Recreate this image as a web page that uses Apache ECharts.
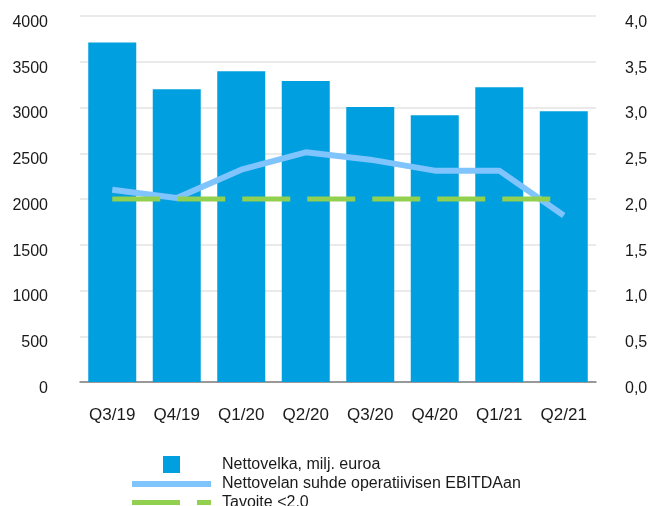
<!DOCTYPE html>
<html>
<head>
<meta charset="utf-8">
<script src="https://cdn.jsdelivr.net/npm/echarts@6/dist/echarts.min.js"></script>
<style>
html,body{margin:0;padding:0;background:#fff;}
#c{width:652px;height:506px;}
</style>
</head>
<body>
<div id="c"></div>
<script>
const categories = ['Q3/19','Q4/19','Q1/20','Q2/20','Q3/20','Q4/20','Q1/21','Q2/21'];
const netDebt = [3710, 3200, 3395, 3290, 3005, 2915, 3220, 2960];
const ratio = [2.10, 2.01, 2.32, 2.51, 2.43, 2.31, 2.31, 1.82];
const target = [2.0, 2.0, 2.0, 2.0, 2.0, 2.0, 2.0, 2.0];
const leftTicks = [0, 4000, 500];
const rightTicks = [0, 4, 0.5];
const names = ['Nettovelka, milj. euroa', 'Nettovelan suhde operatiivisen EBITDAan', 'Tavoite <2.0'];

const FONT = 'Arial, "Liberation Sans", sans-serif';
const TXT = '#1a1a1a';
const chart = echarts.init(document.getElementById('c'));
const legendText = {color: TXT, fontSize: 16, fontFamily: FONT, lineHeight: 16};
chart.setOption({
  animation: false,
  backgroundColor: '#fff',
  grid: {left: 80, right: 56, top: 16, bottom: 124},
  legend: [
    {data: [{name: names[0], icon: 'rect'}], left: 163, top: 456, padding: 0, itemWidth: 17, itemHeight: 17, orient: 'vertical',
     textStyle: Object.assign({padding: [0,0,0,37]}, legendText), selectedMode: false},
    {data: [{name: names[1], icon: 'path://M0,0H79V6H0Z'}], left: 132, top: 476, padding: 0, itemWidth: 79, itemHeight: 6, orient: 'vertical',
     textStyle: Object.assign({padding: [0,0,0,6]}, legendText), selectedMode: false},
    {data: [{name: names[2], icon: 'path://M0,0H48V5H0Z M65,0H79V5H65Z'}], left: 132, top: 494.5, padding: 0, itemWidth: 79, itemHeight: 5, orient: 'vertical',
     textStyle: Object.assign({padding: [0,0,0,6]}, legendText), selectedMode: false}
  ],
  xAxis: {
    type: 'category', data: categories,
    axisLine: {lineStyle: {color: '#7f7f7f', width: 1.5}},
    axisTick: {show: false},
    axisLabel: {color: TXT, fontSize: 17, fontFamily: FONT, margin: 25}
  },
  yAxis: [
    {type: 'value', min: leftTicks[0], max: leftTicks[1], interval: leftTicks[2],
     axisLine: {show: false}, axisTick: {show: false},
     splitLine: {lineStyle: {color: '#e3e3e3', width: 1.5}},
     axisLabel: {color: TXT, fontSize: 16, fontFamily: FONT, margin: 32, verticalAlign: 'top', lineHeight: 13,
       formatter: v => String(v)}},
    {type: 'value', min: rightTicks[0], max: rightTicks[1], interval: rightTicks[2],
     axisLine: {show: false}, axisTick: {show: false}, splitLine: {show: false},
     axisLabel: {color: TXT, fontSize: 16, fontFamily: FONT, margin: 29, verticalAlign: 'top', lineHeight: 13,
       formatter: v => v.toFixed(1).replace('.', ',')}}
  ],
  series: [
    {name: names[0], type: 'bar', data: netDebt, barWidth: 48, itemStyle: {color: '#009fdf'}},
    {name: names[1], type: 'line', yAxisIndex: 1, data: ratio, symbol: 'none',
     lineStyle: {color: '#80c4fd', width: 6}, itemStyle: {color: '#80c4fd'}, z: 3},
    {name: names[2], type: 'line', yAxisIndex: 1, data: target, symbol: 'none',
     lineStyle: {color: '#92d050', width: 5, type: [48, 17]}, itemStyle: {color: '#92d050'}, z: 4}
  ]
});
</script>
</body>
</html>
